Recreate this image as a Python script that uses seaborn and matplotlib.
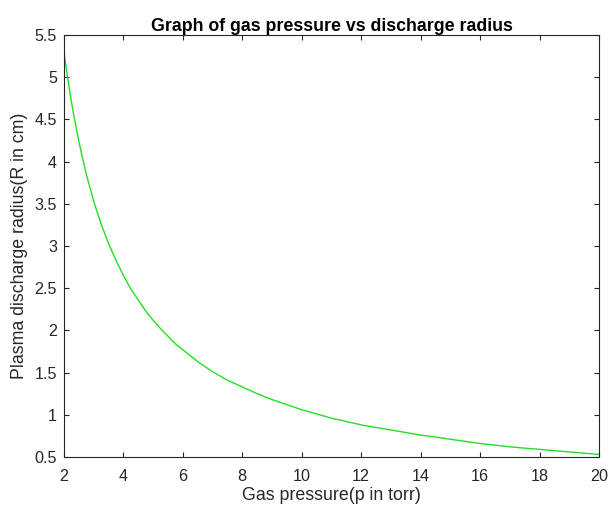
import matplotlib
matplotlib.use("Agg")
import matplotlib.pyplot as plt
import seaborn as sns
import pandas as pd
from matplotlib.ticker import FuncFormatter

# Values
pressure = [2.0, 2.1, 2.2, 2.3, 2.4, 2.5, 2.6, 2.75, 2.9, 3.0, 3.25, 3.5, 3.75, 4.0, 4.25,
            4.5, 4.75, 5.0, 5.25, 5.5, 5.75, 6.0, 6.5, 7.0, 7.5, 8.0, 8.5, 9.0, 9.5,
            10.0, 11.0, 12.0, 13.0, 14.0, 15.0, 16.0, 17.0, 18.0, 19.0, 20.0]
radius = [5.30, 5.05, 4.82, 4.61, 4.42, 4.24, 4.08, 3.85, 3.66, 3.53, 3.26, 3.03, 2.83, 2.65, 2.49,
          2.36, 2.23, 2.12, 2.02, 1.93, 1.84, 1.77, 1.63, 1.51, 1.41, 1.33, 1.25, 1.18, 1.12,
          1.06, 0.96, 0.88, 0.82, 0.76, 0.71, 0.66, 0.62, 0.59, 0.56, 0.53]
x_ticks = [2, 4, 6, 8, 10, 12, 14, 16, 18, 20]
y_ticks = [0.5, 1, 1.5, 2, 2.5, 3, 3.5, 4, 4.5, 5, 5.5]

sns.set_style("white")
plt.rcParams['font.family'] = ['Liberation Sans', 'DejaVu Sans']

df = pd.DataFrame({"p": pressure, "R": radius})

fig = plt.figure(figsize=(6.11, 5.09), dpi=100)
ax = fig.add_axes([0.1047, 0.1022, 0.8756, 0.8291])
sns.lineplot(data=df, x="p", y="R", ax=ax, color="#22e022", linewidth=1.0)

ax.set_xlim(2, 20)
ax.set_ylim(0.5, 5.5)
ax.set_xticks(x_ticks)
ax.set_yticks(y_ticks)
ax.yaxis.set_major_formatter(FuncFormatter(lambda v, pos: f"{v:g}"))
ax.tick_params(direction="in", length=3.6, width=0.8, colors="#262626", labelsize=11.6,
               top=True, right=True, bottom=True, left=True, labelcolor="#262626")
ax.tick_params(axis="x", pad=8.5)
ax.tick_params(axis="y", pad=5)
for s in ax.spines.values():
    s.set_visible(True)
    s.set_color("#262626")
    s.set_linewidth(0.8)

ax.set_xlabel("Gas pressure(p in torr)", fontsize=12.8, color="#262626", labelpad=2)
ax.set_ylabel("Plasma discharge radius(R in cm)", fontsize=12.8, color="#262626", labelpad=5)
ax.set_title("Graph of gas pressure vs discharge radius", fontsize=12.8, fontweight="bold",
             color="#000000", pad=3)

fig.savefig("out.png", dpi=100, facecolor="white")
